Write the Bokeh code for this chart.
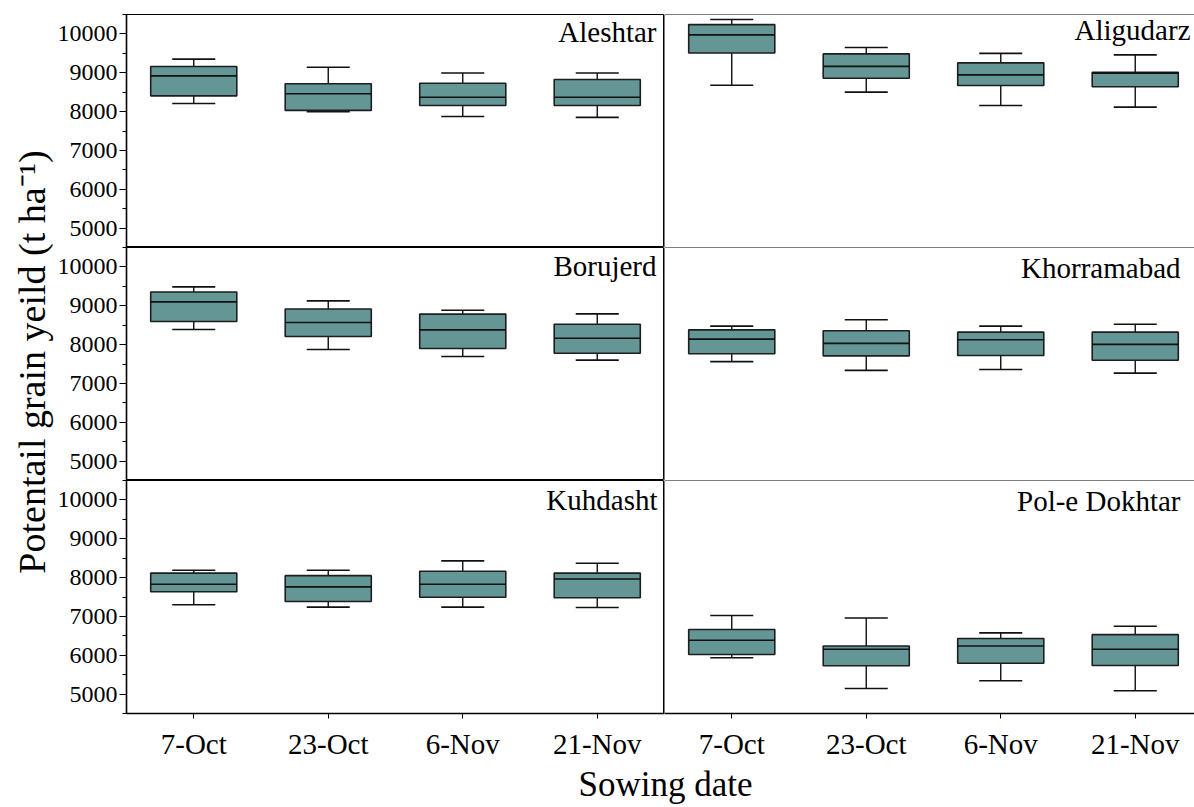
import math
from bokeh.plotting import figure
from bokeh.layouts import row, column
from bokeh.models import Range1d, FixedTicker, Span, ColumnDataSource
from bokeh.transform import dodge
from bokeh.core.properties import value
from bokeh.embed import file_html
from bokeh.resources import INLINE

# ---------------- data ----------------
SITES = ["Aleshtar", "Aligudarz", "Borujerd", "Khorramabad", "Kuhdasht", "Pol-e Dokhtar"]
DATES = ["7-Oct", "23-Oct", "6-Nov", "21-Nov"]
WHISKER_LOW = [
    [8210, 7995, 7875, 7850],
    [8680, 8500, 8155, 8115],
    [8390, 7875, 7695, 7600],
    [7560, 7335, 7360, 7265],
    [7300, 7240, 7240, 7230],
    [5935, 5145, 5345, 5085],
]
Q1 = [
    [8405, 8030, 8155, 8155],
    [9510, 8860, 8670, 8640],
    [8595, 8210, 7900, 7775],
    [7765, 7710, 7720, 7595],
    [7635, 7385, 7495, 7480],
    [6020, 5730, 5795, 5735],
]
MEDIAN = [
    [8920, 8460, 8370, 8370],
    [9975, 9165, 8945, 8990],
    [9100, 8570, 8380, 8165],
    [8140, 8030, 8125, 8005],
    [7830, 7760, 7830, 7965],
    [6385, 6155, 6240, 6155],
]
Q3 = [
    [9160, 8715, 8730, 8825],
    [10240, 9485, 9255, 9010],
    [9355, 8915, 8785, 8525],
    [8380, 8355, 8320, 8320],
    [8115, 8050, 8165, 8115],
    [6665, 6240, 6430, 6530],
]
WHISKER_HIGH = [
    [9350, 9140, 8995, 8995],
    [10370, 9650, 9500, 9460],
    [9485, 9125, 8885, 8790],
    [8475, 8640, 8475, 8525],
    [8190, 8190, 8430, 8370],
    [7025, 6960, 6575, 6745],
]
Y_TICKS = [5000, 6000, 7000, 8000, 9000, 10000]
Y_LABEL = "Potentail grain yeild (t ha\u207b\u00b9)"
X_LABEL = "Sowing date"

# ---------------- style / layout ----------------
FONT = "Liberation Serif"
FILL = "#639694"
YLAB_W = 54
AXIS_W = 72
FRAME_H = 233
LEFT_FW = 538
RIGHT_FW = 530
TOP_PAD = 14
BOTTOM_AXIS_H = 48
XLAB_H = 45
TOTAL_H = TOP_PAD + 3 * FRAME_H + BOTTOM_AXIS_H + XLAB_H
PX_PER_UNIT = LEFT_FW / 4.0
RIGHT_END = 0.5 + RIGHT_FW / PX_PER_UNIT
Y_START, Y_END = 4500, 10500
# label offsets (px) relative to the frame's top-right corner (x_end, Y_END)
LABEL_DX = [-8, -4, -8, -14, -7, -14]
LABEL_DY = [1, -1, 2, 4, 3, 4]


def make_panel(i):
    c = i % 2
    r = i // 2
    left = c == 0
    bottom = r == 2
    x_end = 4.5 if left else RIGHT_END
    p = figure(
        frame_width=LEFT_FW if left else RIGHT_FW,
        frame_height=FRAME_H,
        x_range=Range1d(0.5, x_end),
        y_range=Range1d(Y_START, Y_END),
        output_backend="svg",
        toolbar_location=None,
        tools="",
        x_axis_location="below" if bottom else None,
        y_axis_location="left" if left else None,
        min_border=0,
        min_border_left=AXIS_W if left else 0,
        min_border_top=TOP_PAD if r == 0 else 0,
        min_border_bottom=BOTTOM_AXIS_H if bottom else 0,
        background_fill_color="white",
        border_fill_color="white",
    )
    p.xgrid.visible = False
    p.ygrid.visible = False

    src = ColumnDataSource(dict(
        x=[k + 1 for k in range(len(DATES))],
        low=WHISKER_LOW[i], q1=Q1[i], med=MEDIAN[i], q3=Q3[i], high=WHISKER_HIGH[i],
    ))
    # whiskers
    p.segment(x0="x", y0="q3", x1="x", y1="high", source=src, line_color="#111111", line_width=1.4)
    p.segment(x0="x", y0="q1", x1="x", y1="low", source=src, line_color="#111111", line_width=1.4)
    # caps
    p.segment(x0=dodge("x", -0.16), y0="high", x1=dodge("x", 0.16), y1="high", source=src,
              line_color="#111111", line_width=1.6)
    p.segment(x0=dodge("x", -0.16), y0="low", x1=dodge("x", 0.16), y1="low", source=src,
              line_color="#111111", line_width=1.6)
    # boxes
    p.vbar(x="x", width=0.64, bottom="q1", top="q3", source=src,
           fill_color=FILL, line_color="#1e1e1e", line_width=1.6)
    # medians
    p.segment(x0=dodge("x", -0.32), y0="med", x1=dodge("x", 0.32), y1="med", source=src,
              line_color="#111111", line_width=1.6)

    # panel title
    p.text(x=[x_end], y=[Y_END], text=[SITES[i]], x_offset=LABEL_DX[i], y_offset=LABEL_DY[i],
           text_align="right", text_baseline="top", text_font=value(FONT),
           text_font_size="29px", text_color="black")

    if left:
        p.outline_line_color = "black"
        p.outline_line_width = 1
        ax = p.yaxis[0]
        ax.ticker = FixedTicker(ticks=Y_TICKS, minor_ticks=[t - 500 for t in Y_TICKS] + [Y_TICKS[-1] + 500])
        ax.major_label_text_font = FONT
        ax.major_label_text_font_size = "24px"
        ax.major_label_text_color = "black"
        ax.major_tick_out = 7
        ax.major_tick_in = 0
        ax.minor_tick_out = 4
        ax.minor_tick_in = 0
        ax.major_tick_line_width = 1.2
        ax.minor_tick_line_width = 1.2
        ax.axis_line_width = 1.6
        ax.major_label_standoff = 2
        ax.axis_line_color = "black"
        ax.major_tick_line_color = "black"
        ax.minor_tick_line_color = "black"
    else:
        p.outline_line_color = None
        p.add_layout(Span(location=Y_END, dimension="width", line_color="black", line_width=1))
        p.add_layout(Span(location=Y_START, dimension="width", line_color="black", line_width=1))
        p.add_layout(Span(location=0.5, dimension="height", line_color="black", line_width=1))

    if bottom:
        ax = p.xaxis[0]
        ax.ticker = FixedTicker(ticks=[k + 1 for k in range(len(DATES))])
        ax.major_label_overrides = {k + 1: d for k, d in enumerate(DATES)}
        ax.major_label_text_font = FONT
        ax.major_label_text_font_size = "29px"
        ax.major_label_text_color = "black"
        ax.major_tick_out = 5
        ax.major_tick_in = 0
        ax.minor_tick_line_color = None
        ax.axis_line_width = 1.6
        ax.axis_line_color = "black"
        ax.major_tick_line_color = "black"
        ax.major_label_standoff = 9
    return p


panels = [make_panel(i) for i in range(6)]

# y-axis title strip
ylab = figure(width=YLAB_W, height=TOTAL_H, x_range=Range1d(0, YLAB_W), y_range=Range1d(0, TOTAL_H),
              output_backend="svg", toolbar_location=None, tools="", min_border=0,
              x_axis_location=None, y_axis_location=None)
ylab.outline_line_color = None
ylab.xgrid.visible = False
ylab.ygrid.visible = False
ylab.text(x=[31], y=[TOTAL_H - (TOP_PAD + 1.5 * FRAME_H) + 2], text=[Y_LABEL], angle=math.pi / 2,
          text_align="center", text_baseline="middle", text_font=value(FONT),
          text_font_size="38px", text_color="black")

# x-axis title strip
XW = AXIS_W + LEFT_FW + RIGHT_FW
xlab = figure(width=XW, height=XLAB_H, x_range=Range1d(0, XW), y_range=Range1d(0, XLAB_H),
              output_backend="svg", toolbar_location=None, tools="", min_border=0,
              x_axis_location=None, y_axis_location=None)
xlab.outline_line_color = None
xlab.xgrid.visible = False
xlab.ygrid.visible = False
xlab.text(x=[665 - YLAB_W], y=[23], text=[X_LABEL],
          text_align="center", text_baseline="middle", text_font=value(FONT),
          text_font_size="35px", text_color="black")

grid = column(
    row(panels[0], panels[1], spacing=0),
    row(panels[2], panels[3], spacing=0),
    row(panels[4], panels[5], spacing=0),
    xlab,
    spacing=0,
)
layout = row(ylab, grid, spacing=0)

open("out.html", "w").write(file_html(layout, INLINE))
